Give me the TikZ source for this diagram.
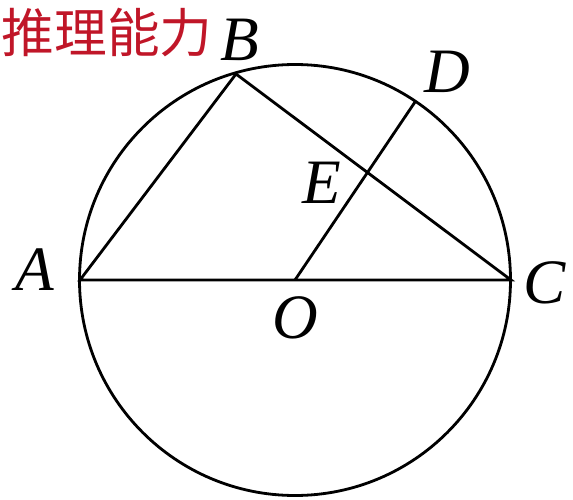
\documentclass[tikz,border=0pt]{standalone}
\usepackage{fontspec}
\setmainfont{Liberation Serif}
\newfontfamily\cjk{Noto Sans CJK SC}
\definecolor{wmred}{RGB}{192,22,40}
\tikzset{
  pt/.style={font=\fontsize{36}{40}\selectfont\itshape},
  wm/.style={font=\fontsize{30}{34}\selectfont\cjk, text=wmred}
}
\begin{document}
\begin{tikzpicture}[line width=1.6pt]
        \useasboundingbox (0,0) rectangle (11.46,9.98);
        % Punkty
        \coordinate (O) at (5.9,4.38);
        \coordinate (A) at (1.6,4.38);
        \coordinate (C) at (10.22,4.38);
        \coordinate (B) at (4.72,8.5);
        \coordinate (D) at (8.3,7.94);
        \coordinate (E) at (intersection of O--D and B--C);

        % Okrąg i trójkąt
        \draw (O) circle (4.31);
        \draw (A) -- (B) -- (C) -- cycle;
        \draw (O) -- (D);

        % Etykiety
        \node[pt] (lA) at (0.7,4.58) {A};
        \node[pt] (lB) at (4.8,9.18) {B};
        \node[pt] (lD) at (8.94,8.54) {D};
        \node[pt] (lE) at (6.44,6.32) {E};
        \node[pt] (lO) at (5.9,3.62) {O};
        \node[pt] (lC) at (10.9,4.32) {C};
        \node[wm] (tag) at (2.14,9.32) {推理能力};
    \end{tikzpicture}
\end{document}
